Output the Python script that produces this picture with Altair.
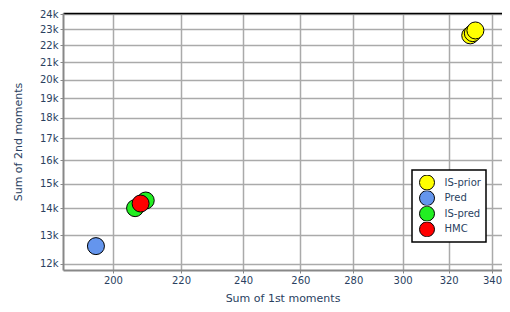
import altair as alt
import pandas as pd

series = ["IS-prior", "IS-prior", "IS-prior", "Pred", "IS-pred", "IS-pred", "HMC"]
sum1 = [329.8, 331.0, 332.2, 195.3, 206.3, 209.4, 207.9]
sum2 = [22620, 22760, 22930, 12610, 14010, 14310, 14190]

names = ["IS-prior", "Pred", "IS-pred", "HMC"]
colors = ["#ffff00", "#6495ed", "#22ee22", "#ff0000"]

x_ticks = [200, 220, 240, 260, 280, 300, 320, 340]
y_ticks = [12000, 13000, 14000, 15000, 16000, 17000, 18000, 19000, 20000,
           21000, 22000, 23000, 24000]

df = pd.DataFrame({"series": series, "s1": sum1, "s2": sum2, "order": range(len(series))})

font = "DejaVu Sans"
txt = "#2a3f5f"

xscale = alt.Scale(type="log", domain=[186.5, 344.8], nice=False, zero=False)
yscale = alt.Scale(type="log", domain=[11802, 24067], nice=False, zero=False)

points = alt.Chart(df).mark_point(
    filled=True, size=289, stroke="black", strokeWidth=1, opacity=1, shape="circle"
).encode(
    x=alt.X("s1:Q", title="Sum of 1st moments", scale=xscale,
            axis=alt.Axis(values=x_ticks, format="d", labelFlush=False)),
    y=alt.Y("s2:Q", title="Sum of 2nd moments", scale=yscale,
            axis=alt.Axis(values=y_ticks, format="~s")),
    color=alt.Color("series:N", scale=alt.Scale(domain=names, range=colors),
                    legend=alt.Legend(title=None, orient="none", legendX=349, legendY=157)),
    order="order:Q",
)

top_frame = alt.Chart(df).mark_point(opacity=0).encode(
    x=alt.X("s1:Q", scale=xscale,
            axis=alt.Axis(orient="top", title=None, labels=False, ticks=False, grid=False,
                          domainColor="black", domainWidth=1.5)),
    y=alt.Y("s2:Q", scale=yscale),
)

chart = alt.layer(points, top_frame).resolve_axis(x="independent").properties(
    width=439, height=257,
    autosize=alt.AutoSizeParams(type="none"),
    padding={"left": 55, "top": 5, "right": 0, "bottom": 34},
).configure_view(
    strokeWidth=0, fill="white"
).configure_axis(
    labelFont=font, labelFontSize=10, labelColor=txt,
    titleFont=font, titleFontSize=11, titleColor=txt, titleFontWeight="normal",
    gridColor="#aaaaaa", gridWidth=1.5,
    domainColor="#888888", domainWidth=2,
    tickColor="#888888", tickSize=3, labelPadding=2,
).configure_axisX(
    titlePadding=7,
).configure_axisY(
    titlePadding=16,
).configure_legend(
    labelFont=font, labelFontSize=10, labelColor=txt,
    strokeColor="black", strokeWidth=1.5, fillColor="white", padding=5,
    symbolSize=225, symbolStrokeColor="black", symbolStrokeWidth=1,
    symbolType="circle", symbolOpacity=1, rowPadding=0.6, clipHeight=15,
    labelOffset=9.5, symbolOffset=2, cornerRadius=0,
)

chart.save("out.html", embed_options={"renderer": "svg", "actions": False})
